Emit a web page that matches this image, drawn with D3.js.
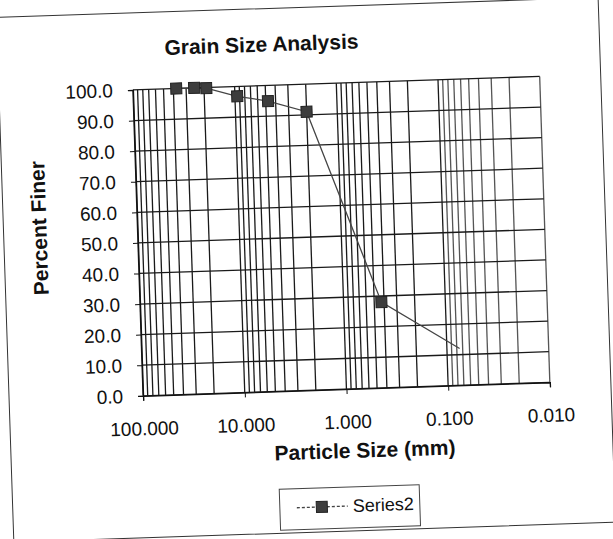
<!DOCTYPE html>
<html>
<head>
<meta charset="utf-8">
<script src="https://d3js.org/d3.v7.min.js"></script>
<style>
  body { margin: 0; background: #fff; }
  text { font-family: Arial, "Liberation Sans", sans-serif; fill: #111; }
</style>
</head>
<body>
<div id="chart"></div>
<script>
// sieve results
var sizes = [37.5, 25, 19, 9.5, 4.75, 2.0, 0.425, 0.075];
var finer = [100, 100, 99.8, 96.8, 94.9, 91.0, 28.0, 12.0];
var xTickValues = [100, 10, 1, 0.1, 0.01];
var yTickValues = [0, 10, 20, 30, 40, 50, 60, 70, 80, 90, 100];
var seriesName = 'Series2';

var width = 613, height = 539;
var plot = { left: 138, right: 545, top: 83, bottom: 389 };

var svg = d3.select('#chart').append('svg')
  .attr('width', width)
  .attr('height', height);

// the scan is tilted a little, so draw everything in a rotated group
var g = svg.append('g').attr('transform', 'rotate(-1.9, 345, 240)');

g.append('rect')
  .attr('x', 4).attr('y', 6)
  .attr('width', 602).attr('height', 525)
  .attr('fill', 'none')
  .attr('stroke', '#333')
  .attr('stroke-width', 1);

var x = d3.scaleLog().domain([100, 0.01]).range([plot.left, plot.right]);
var y = d3.scaleLinear().domain([0, 100]).range([plot.bottom, plot.top]);

// minor + major vertical grid
var gridX = [];
for (var p = -2; p < 2; p++) {
  for (var m = 1; m < 10; m++) gridX.push(m * Math.pow(10, p));
}
gridX.push(100);

g.append('g').selectAll('line')
  .data(gridX)
  .enter().append('line')
  .attr('x1', d => x(d)).attr('x2', d => x(d))
  .attr('y1', plot.top).attr('y2', plot.bottom)
  .attr('stroke', d => d < 0.1 ? '#555' : '#1a1a1a')
  .attr('stroke-width', 1.3);

g.append('g').selectAll('line')
  .data(yTickValues)
  .enter().append('line')
  .attr('x1', plot.left).attr('x2', plot.right)
  .attr('y1', d => y(d)).attr('y2', d => y(d))
  .attr('stroke', '#1a1a1a')
  .attr('stroke-width', 1.3);

// axes
var yAxis = g.append('g')
  .attr('transform', `translate(${plot.left},0)`)
  .call(d3.axisLeft(y).tickValues(yTickValues).tickSize(5).tickPadding(15)
    .tickFormat(d3.format('.1f')));
yAxis.select('.domain').attr('stroke', '#111').attr('stroke-width', 1.3);
yAxis.selectAll('.tick line').attr('stroke', '#111');
yAxis.selectAll('text')
  .style('font-size', '19px')
  .style('font-family', 'Arial, "Liberation Sans", sans-serif')
  .attr('fill', '#111');

var xAxis = g.append('g')
  .attr('transform', `translate(0,${plot.bottom})`)
  .call(d3.axisBottom(x).tickValues(xTickValues).tickSize(5).tickPadding(21)
    .tickFormat(d3.format('.3f')));
xAxis.select('.domain').attr('stroke', '#111').attr('stroke-width', 1.3);
xAxis.selectAll('.tick line').attr('stroke', '#111');
xAxis.selectAll('text')
  .style('font-size', '19px')
  .style('font-family', 'Arial, "Liberation Sans", sans-serif')
  .attr('fill', '#111');

// titles
g.append('text')
  .attr('x', 268).attr('y', 49)
  .attr('text-anchor', 'middle')
  .style('font-size', '21px').style('font-weight', 'bold')
  .text('Grain Size Analysis');

g.append('text')
  .attr('transform', 'translate(47,218) rotate(-90)')
  .attr('text-anchor', 'middle')
  .style('font-size', '21px').style('font-weight', 'bold')
  .text('Percent Finer');

g.append('text')
  .attr('x', 358).attr('y', 458)
  .attr('text-anchor', 'middle')
  .style('font-size', '21px').style('font-weight', 'bold')
  .text('Particle Size (mm)');

// series
var pts = sizes.map((s, i) => ({ s: s, f: finer[i] }));

g.append('path')
  .datum(pts)
  .attr('fill', 'none')
  .attr('stroke', '#444')
  .attr('stroke-width', 1.3)
  .attr('d', d3.line().x(d => x(d.s)).y(d => y(d.f)));

var mk = 11;
g.append('g').selectAll('rect')
  .data(pts.slice(0, pts.length - 1))
  .enter().append('rect')
  .attr('x', d => x(d.s) - mk / 2)
  .attr('y', d => y(d.f) - mk / 2)
  .attr('width', mk).attr('height', mk)
  .attr('fill', '#3d3d3d')
  .attr('stroke', '#222');

// legend
var lg = g.append('g').attr('transform', 'translate(271,487)');
lg.append('rect')
  .attr('width', 140).attr('height', 41)
  .attr('fill', '#fff')
  .attr('stroke', '#444').attr('stroke-width', 1);
lg.append('line')
  .attr('x1', 17).attr('x2', 68).attr('y1', 19).attr('y2', 19)
  .attr('stroke', '#444').attr('stroke-width', 1.3)
  .attr('stroke-dasharray', '3,2');
lg.append('rect')
  .attr('x', 42 - mk / 2).attr('y', 19 - mk / 2)
  .attr('width', mk).attr('height', mk)
  .attr('fill', '#3d3d3d').attr('stroke', '#222');
lg.append('text')
  .attr('x', 73).attr('y', 25)
  .style('font-size', '18px')
  .text(seriesName);
</script>
</body>
</html>
